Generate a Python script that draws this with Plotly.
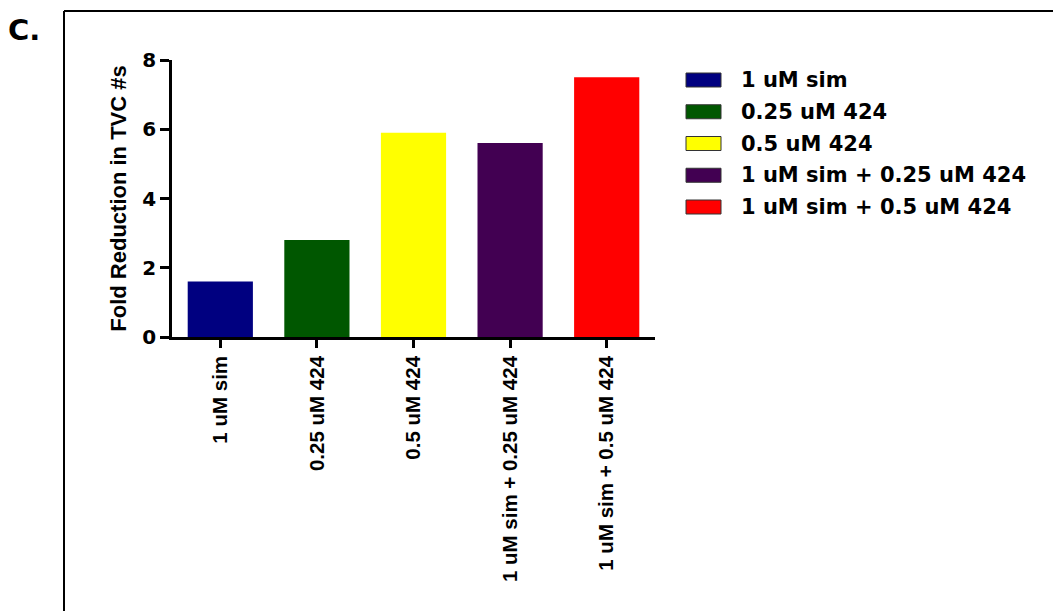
import plotly.graph_objects as go

categories = ["1 uM sim", "0.25 uM 424", "0.5 uM 424",
              "1 uM sim + 0.25 uM 424", "1 uM sim + 0.5 uM 424"]
values = [1.6, 2.8, 5.9, 5.6, 7.5]
colors = ["#000080", "#005700", "#FFFF00", "#420052", "#FF0000"]
y_ticks = [0, 2, 4, 6, 8]
y_title = "Fold Reduction in TVC #s"
panel_label = "C."

OFF = 8  # page body margin
W, H = 1061 - OFF, 611 - OFF
# plot area in screen pixels
L, R, T, B = 172, 655, 60, 337

def px(x):
    return (x - L) / (R - L)

def py(y):
    return (B - y) / (B - T)

ARIAL = "Arial, Liberation Sans, sans-serif"
WIDE = "DejaVu Sans, sans-serif"

fig = go.Figure()
fig.add_trace(go.Bar(
    x=categories, y=values, marker=dict(color=colors, line=dict(width=0)),
    width=0.675, showlegend=False,
))

fig.update_layout(
    width=W, height=H,
    margin=dict(l=L - OFF, r=1061 - R, t=T - OFF, b=611 - B, pad=0),
    paper_bgcolor="white", plot_bgcolor="white",
    font=dict(family=ARIAL, color="black"),
)
fig.update_xaxes(
    range=[-0.5, 4.5], showgrid=False, zeroline=False,
    showline=True, linecolor="black", linewidth=2.5,
    ticks="outside", ticklen=8, tickwidth=2.5, tickcolor="black",
    tickangle=-90, tickfont=dict(size=20.5, weight="bold", family=ARIAL),
)
fig.update_yaxes(
    range=[0, 8], tickvals=y_ticks, showgrid=False, zeroline=False,
    showline=True, linecolor="black", linewidth=2.5,
    ticks="outside", ticklen=9, tickwidth=2.5, tickcolor="black",
    tickfont=dict(size=20, weight="bold", family=WIDE),
    title=dict(text=y_title, font=dict(size=22, weight="bold", family=ARIAL), standoff=10),
)

# Outer frame (top and left lines)
fig.add_shape(type="line", xref="paper", yref="paper",
              x0=px(64), x1=px(1070), y0=py(11), y1=py(11),
              line=dict(color="black", width=2))
fig.add_shape(type="line", xref="paper", yref="paper",
              x0=px(64), x1=px(64), y0=py(11), y1=py(620),
              line=dict(color="black", width=2))

# Panel label
fig.add_annotation(text=panel_label, xref="paper", yref="paper",
                   x=px(6), y=py(30), xanchor="left", yanchor="middle",
                   showarrow=False, font=dict(size=29, weight="bold", family=WIDE))

# Custom legend
row0, step = 80, 31.75
for i, (cat, col) in enumerate(zip(categories, colors)):
    yc = row0 + i * step
    fig.add_shape(type="rect", xref="paper", yref="paper",
                  x0=px(686), x1=px(721), y0=py(yc - 7), y1=py(yc + 7),
                  fillcolor=col, line=dict(color="#333333", width=1))
    fig.add_annotation(text=cat, xref="paper", yref="paper",
                       x=px(739), y=py(yc), xanchor="left", yanchor="middle",
                       showarrow=False,
                       font=dict(size=21, weight="bold", family=WIDE))

fig.write_html("out.html")
